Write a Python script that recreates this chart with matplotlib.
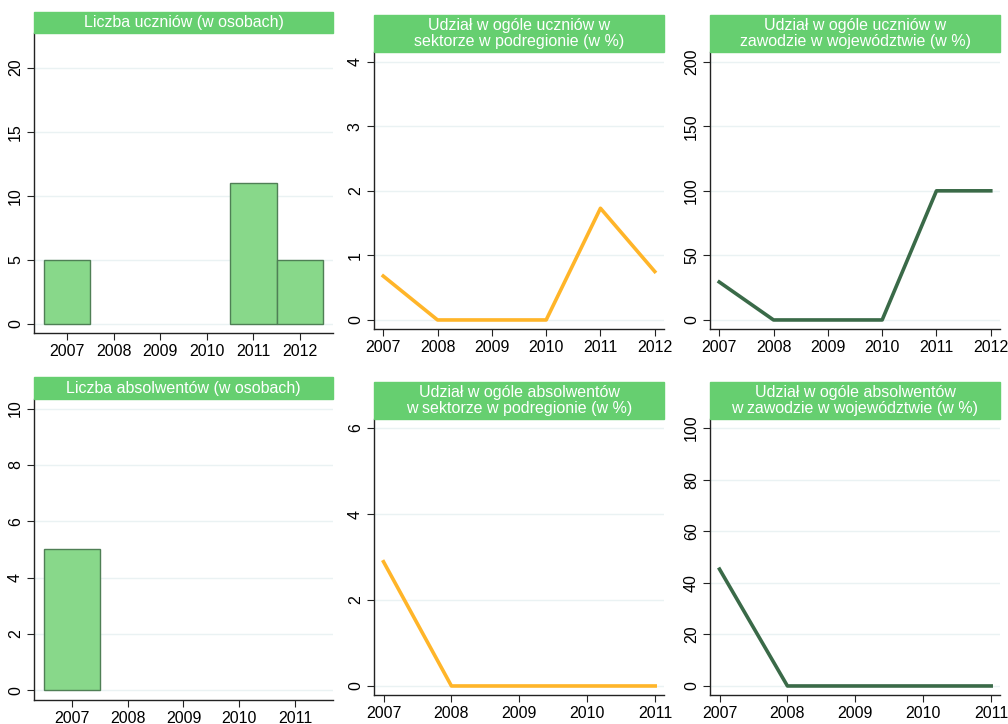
import numpy as np
import matplotlib

matplotlib.use("Agg")
import matplotlib.pyplot as plt

W, H = 1008, 724

TITLE_BG = "#66CF70"
BAR_FILL = "#88D88A"
BAR_EDGE = "#4F7F55"
ORANGE = "#FFB529"
DKGREEN = "#3A6A48"
GRID = "#EAF2F3"

plt.rcParams.update({
    "font.family": ["Liberation Sans", "DejaVu Sans"],
    "font.size": 11.5,
    "axes.edgecolor": "#222222", "axes.linewidth": 1.0,
    "axes.spines.top": False, "axes.spines.right": False,
    "xtick.major.size": 5, "ytick.major.size": 5,
})

# data
years_u = [2007, 2008, 2009, 2010, 2011, 2012]
uczniowie = [5, 0, 0, 0, 11, 5]
udzial_u_podreg = [0.68, 0, 0, 0, 1.73, 0.75]
udzial_u_woj = [29.4, 0, 0, 0, 100, 100]

years_a = [2007, 2008, 2009, 2010, 2011]
absolwenci = [5, 0, 0, 0, 0]
udzial_a_podreg = [2.89, 0, 0, 0, 0]
udzial_a_woj = [45.3, 0, 0, 0, 0]

titles = [
    "Liczba uczniów (w osobach)",
    "Udział w ogóle uczniów w\nsektorze w podregionie (w %)",
    "Udział w ogóle uczniów w\nzawodzie w województwie (w %)",
    "Liczba absolwentów (w osobach)",
    "Udział w ogóle absolwentów\nw sektorze w podregionie (w %)",
    "Udział w ogóle absolwentów\nw zawodzie w województwie (w %)",
]


def px_axes(fig, x0, y0, x1, y1):
    # pixel box (top-left origin) -> figure fraction axes
    return fig.add_axes([x0 / W, 1 - y1 / H, (x1 - x0) / W, (y1 - y0) / H])


def style(ax, yticks, xticks):
    ax.set_yticks(yticks)
    ax.set_yticklabels([str(t) for t in yticks], rotation=90, va="center")
    ax.set_xticks(xticks)
    ax.grid(axis="y", color=GRID, lw=1.0)
    ax.set_axisbelow(True)
    ax.tick_params(axis="both", colors="#222222", labelcolor="black", pad=3)


def bars(ax, years, vals):
    # empty years show no bar at all (no outline on the baseline)
    h = np.where(np.asarray(vals, float) > 0, vals, np.nan)
    ax.bar(years, h, width=1.0, color=BAR_FILL, edgecolor=BAR_EDGE, lw=1.0)


def title_bar(fig, x0, y0, x1, y1, text):
    tb = px_axes(fig, x0, y0, x1, y1)
    tb.set_axis_off()
    tb.add_patch(plt.Rectangle((0, 0), 1, 1, transform=tb.transAxes,
                               color=TITLE_BG, clip_on=False))
    tb.text(0.5, 0.5, text, ha="center", va="center", color="white",
            fontsize=11.5, linespacing=1.08, transform=tb.transAxes)


fig = plt.figure(figsize=(W / 100, H / 100), dpi=100)

# top-left: bar chart of pupils
ax = px_axes(fig, 34, 33, 333, 333)
bars(ax, years_u, uczniowie)
ax.set_xlim(2006.29, 2012.71)
ax.set_ylim(-0.7, 22.7)
style(ax, [0, 5, 10, 15, 20], years_u)
title_bar(fig, 34, 12, 333, 33, titles[0])

# top-middle
ax = px_axes(fig, 374, 52, 664, 329)
ax.plot(years_u, udzial_u_podreg, color=ORANGE, lw=2.6)
ax.set_xlim(2006.83, 2012.17)
ax.set_ylim(-0.14, 4.15)
style(ax, [0, 1, 2, 3, 4], years_u)
title_bar(fig, 374, 15, 664, 52, titles[1])

# top-right
ax = px_axes(fig, 710, 52, 1000, 329)
ax.plot(years_u, udzial_u_woj, color=DKGREEN, lw=2.6)
ax.set_xlim(2006.83, 2012.17)
ax.set_ylim(-7, 207.5)
style(ax, [0, 50, 100, 150, 200], years_u)
title_bar(fig, 710, 15, 1000, 52, titles[2])

# bottom-left: bar chart of graduates
ax = px_axes(fig, 34, 399, 333, 700)
bars(ax, years_a, absolwenci)
ax.set_xlim(2006.32, 2011.68)
ax.set_ylim(-0.35, 10.34)
style(ax, [0, 2, 4, 6, 8, 10], years_a)
title_bar(fig, 34, 377, 333, 399, titles[3])

# bottom-middle
ax = px_axes(fig, 374, 419, 664, 695)
ax.plot(years_a, udzial_a_podreg, color=ORANGE, lw=2.6)
ax.set_xlim(2006.86, 2011.13)
ax.set_ylim(-0.21, 6.21)
style(ax, [0, 2, 4, 6], years_a)
title_bar(fig, 374, 382, 664, 419, titles[4])

# bottom-right
ax = px_axes(fig, 710, 419, 1000, 695)
ax.plot(years_a, udzial_a_woj, color=DKGREEN, lw=2.6)
ax.set_xlim(2006.86, 2011.13)
ax.set_ylim(-3.5, 103.5)
style(ax, [0, 20, 40, 60, 80, 100], years_a)
title_bar(fig, 710, 382, 1000, 419, titles[5])

fig.savefig("out.png", dpi=100)
